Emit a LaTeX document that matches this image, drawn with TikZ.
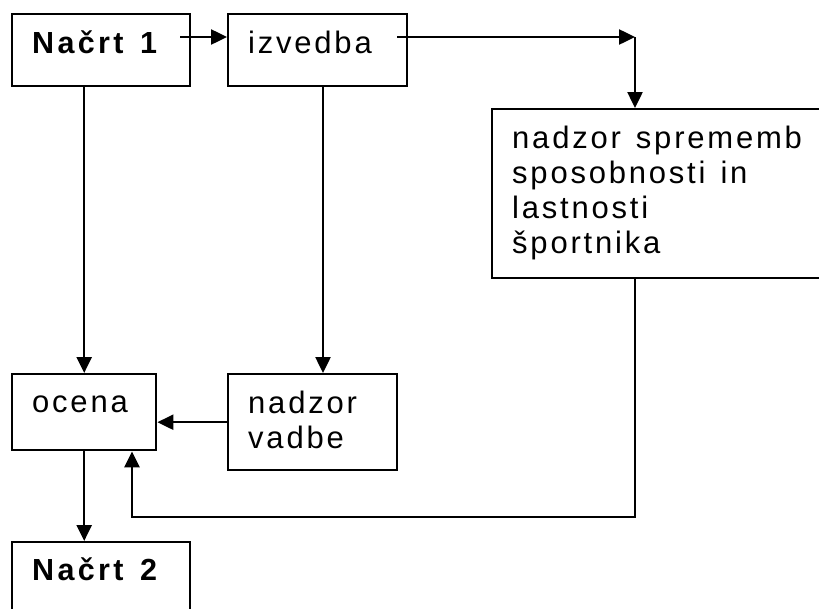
\documentclass[tikz,border=0pt]{standalone}
\usepackage{fontspec}
\setmainfont{Liberation Sans}[LetterSpace=9, WordSpace=1.32]
\newfontfamily\headfont{Liberation Sans}[LetterSpace=11, WordSpace=1.4]
\usetikzlibrary{arrows.meta,calc}

\tikzset{
  box/.style={draw, line width=2.4pt, inner sep=0pt, anchor=north west},
  txt/.style={anchor=base west, inner sep=0pt, font=\fontsize{31}{35}\selectfont},
  head/.style={anchor=base west, inner sep=0pt,
    font=\headfont\fontsize{30.5}{35}\selectfont\bfseries},
  arr/.style={line width=2.5pt, -{Triangle[length=16pt,width=15pt]}},
}

\begin{document}
\begin{tikzpicture}[x=1pt, y=-1pt]
  % page area
  \useasboundingbox (0,0) rectangle (819,608);
  \fill[white] (0,0) rectangle (819,608);
  \clip (0,0) rectangle (819,608);

  % boxes
  \node[box, minimum width=178pt, minimum height=72pt]  (N1) at (11,13)  {};
  \node[box, minimum width=179pt, minimum height=72pt]  (IZ) at (227,13) {};
  \node[box, minimum width=340pt, minimum height=169pt] (NS) at (491,108) {};
  \node[box, minimum width=144pt, minimum height=76pt]  (OC) at (11,373) {};
  \node[box, minimum width=169pt, minimum height=96pt]  (NV) at (227,373) {};
  \node[box, minimum width=178pt, minimum height=90pt]  (N2) at (11,541) {};

  % labels, set from the top left corner of each box
  \node[head] (tN1) at ($(N1.north west)+(21,40)$) {Načrt 1};
  \node[txt] (tIZ) at ($(IZ.north west)+(21,40)$) {izvedba};
  \node[txt] (tNS) at ($(NS.north west)+(21,40)$)
    {\begin{tabular}[t]{@{}l@{}}nadzor sprememb\\sposobnosti in\\lastnosti\\športnika\end{tabular}};
  \node[txt] (tOC) at ($(OC.north west)+(21,39)$) {ocena};
  \node[txt] (tNV) at ($(NV.north west)+(21,40)$)
    {\begin{tabular}[t]{@{}l@{}}nadzor\\vadbe\end{tabular}};
  \node[head] (tN2) at ($(N2.north west)+(21,39)$) {Načrt 2};

  % routing points
  \coordinate (s1) at ($(N1.north east)+(-11,24)$);
  \coordinate (s2) at ($(IZ.north east)+(-11,24)$);
  \coordinate (c1) at (635,37);
  \coordinate (c2) at (132,517);
  \coordinate (d1) at ($(IZ.south west)+(96,0)$);

  % connectors
  \draw[arr] (s1) -- (s1 -| IZ.west);
  \draw[arr] (s2) -- (c1);
  \draw[arr] (c1) -- (c1 |- NS.north);
  \draw[arr] (N1.south -| OC.north) -- (OC.north);
  \draw[arr] (d1) -- (d1 |- NV.north);
  \draw[arr] (NV.west) -- (NV.west -| OC.east);
  \draw[arr] (NS.south -| c1) -- (c1 |- c2) -- (c2) -- (c2 |- OC.south);
  \draw[arr] (OC.south) -- (OC.south |- N2.north);
\end{tikzpicture}
\end{document}
